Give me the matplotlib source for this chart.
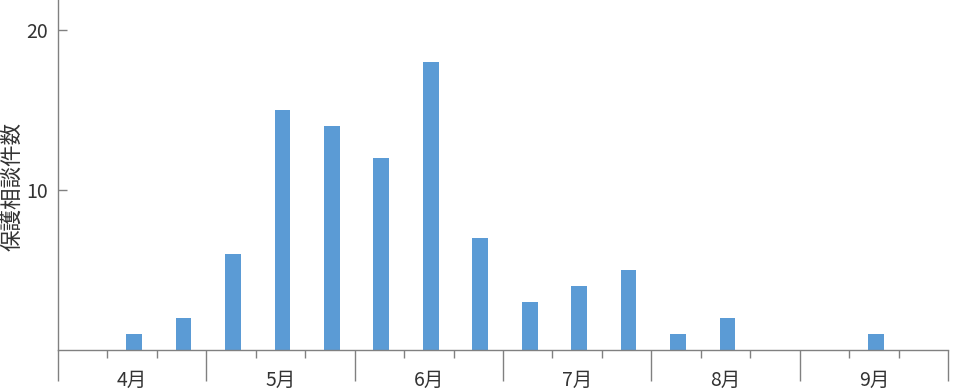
import numpy as np
import matplotlib
matplotlib.use("Agg")
import matplotlib.pyplot as plt

plt.rcParams['font.family'] = ['Noto Sans CJK JP', 'DejaVu Sans']

# weekly-ish counts, 3 slots per month (Apr..Sep)
months = ["4月", "5月", "6月", "7月", "8月", "9月"]
slots_per_month = 3
counts = [0, 1, 2, 6, 15, 14, 12, 18, 7, 3, 4, 5, 1, 2, 0, 0, 1, 0]
ylabel = "保護相談件数"
yticks = [10, 20]

BAR_COLOR = "#5b9bd5"
AXIS_COLOR = "#808080"
TEXT_COLOR = "#333333"


def main():
    fig = plt.figure(figsize=(9.59, 3.90), dpi=100)
    ax = fig.add_axes([58 / 959, 40 / 390, (948 - 58) / 959, 350 / 390])

    n = len(counts)
    x = np.arange(n) + 0.5 + 0.04
    vals = np.array(counts, dtype=float)
    mask = vals > 0
    ax.bar(x[mask], vals[mask], width=0.32, color=BAR_COLOR, zorder=2)

    ax.set_xlim(0, n)
    ax.set_ylim(0, 21.9)

    for pos in ["top", "right"]:
        ax.spines[pos].set_visible(False)
    for pos in ["left", "bottom"]:
        ax.spines[pos].set_color(AXIS_COLOR)
        ax.spines[pos].set_linewidth(1.0)

    # month boundaries (long ticks) and week boundaries (short ticks)
    ax.set_xticks(np.arange(0, n + 1, slots_per_month))
    ax.set_xticks(np.arange(0, n + 1), minor=True)
    ax.tick_params(axis="x", which="major", length=22, width=1.0,
                   color=AXIS_COLOR, labelbottom=False)
    ax.tick_params(axis="x", which="minor", length=5.5, width=1.0,
                   color=AXIS_COLOR)

    for i, m in enumerate(months):
        ax.text(i * slots_per_month + slots_per_month / 2, -0.088, m,
                transform=ax.get_xaxis_transform(), ha="center", va="center",
                fontsize=14, color=TEXT_COLOR)

    ax.set_yticks(yticks)
    ax.set_yticklabels([str(v) for v in yticks])
    ax.tick_params(axis="y", direction="in", length=6.5, width=1.0,
                   color=AXIS_COLOR, labelsize=14, labelcolor=TEXT_COLOR,
                   pad=7)

    fig.text(12 / 959, 1 - 186 / 390, ylabel, rotation=90, ha="center",
             va="center", fontsize=15.5, color=TEXT_COLOR)

    fig.savefig("out.png", dpi=100)


if __name__ == "__main__":
    main()
